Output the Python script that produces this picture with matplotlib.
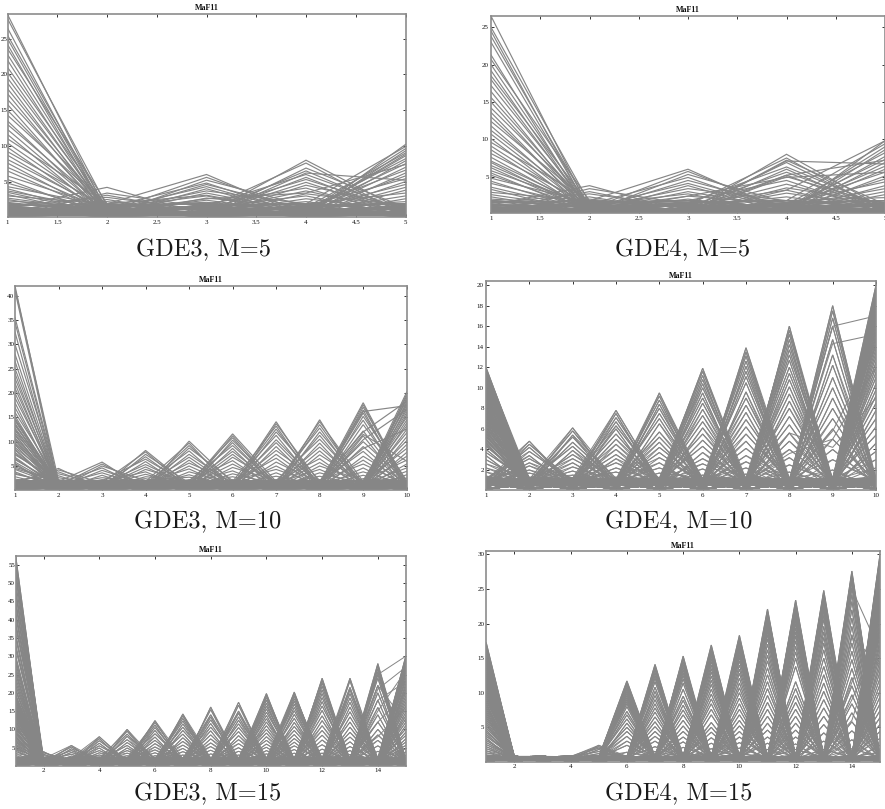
import matplotlib
matplotlib.use('Agg')
import matplotlib.pyplot as plt

# Values: for each objective, the heights of the solutions
# peaking there. Everything else on that solution sits on the panel's floor values.
gde3_m5_peaks = [
    [28.4, 27.8, 26.5, 25.5, 25, 24.2, 23.6, 22.8, 22, 21, 20.3, 19.5, 18.8, 18, 17.3, 16.5, 15.8, 15, 14.3, 13.5,
     13, 12.3, 11.6, 11, 10.4, 9.8, 9.2, 8.7, 8.1, 7.6, 7, 6.5, 5.8, 5.3, 4.8, 4.3, 4, 3.7, 3.5, 3.2, 3, 2.7, 2.5,
     2.3, 2.1, 1.9, 1.7, 1.5, 1.3, 1.1, 0.9, 0.7],
    [4.2, 3.4, 3.1, 2.8, 2.5, 2.2, 1.9, 1.6, 1.3, 1, 0.8, 0.6],
    [6, 5.6, 5.2, 4.8, 4.6, 4.3, 4, 3.7, 3.4, 3, 2.7, 2.4, 2.1, 1.8, 1.5, 1.2, 0.9],
    [8, 7.6, 6.9, 6.5, 6, 5.6, 5.3, 4.9, 4.5, 4.1, 3.7, 3.3, 3, 2.6, 2.2, 1.8, 1.4, 1],
    [10.2, 9.9, 9.6, 9.3, 9, 8.6, 8.2, 7.9, 7.5, 7, 6.6, 6.2, 5.8, 5.4, 5, 4.6, 4.2, 3.8, 3.4, 3, 2.6, 2.2, 1.8,
     1.4, 1, 0.6, 0.4],
]
gde3_m5_floor = [0.2, 0.9, 0.4, 1.3, 0.1, 0.7, 1.6, 0.3, 1.1, 0.5, 0.15, 1.9, 0.8, 0.25, 1.4, 0.6, 1.0]
gde3_m5_extra = [{4: 6.2, 5: 5.2}, {3: 2.6, 4: 3.4, 5: 7.4}, {2: 1.9, 3: 3.1, 5: 8.8}]

gde4_m5_peaks = [
    [26.5, 25, 24.5, 23.8, 23, 21.3, 20.7, 20, 19.2, 18.5, 18, 17.2, 16.4, 15.6, 15, 14.2, 13.6, 13, 12.4, 11.8,
     11.2, 10.7, 10.1, 9.6, 9.1, 8.6, 8.1, 7.6, 7.1, 6.9, 6.5, 6.2, 5.8, 5.5, 5.2, 4.8, 4.4, 4.1, 3.6, 3.3, 2.9,
     2.6, 2.3, 2, 1.7, 1.3, 1, 0.8],
    [3.8, 3.4, 3, 2.7, 2.3, 2, 1.7, 1.4, 1, 0.7],
    [6, 5.7, 5.3, 4.9, 4.5, 4.1, 3.8, 3.4, 3, 2.7, 2.4, 2, 1.6, 1.3, 1, 0.7],
    [8, 7.5, 7.2, 6.9, 6.3, 6, 5.6, 5.2, 5, 4.5, 4, 3.5, 3.2, 2.8, 2.3, 1.8, 1.3, 0.9],
    [9.8, 9.4, 9, 8.6, 8.2, 7.7, 7.3, 6.9, 6.4, 6, 5.6, 5.1, 4.7, 4.3, 3.8, 3.4, 3, 2.6, 2.2, 1.8, 1.4, 1, 0.6, 0.3],
]
gde4_m5_floor = [0.2, 0.8, 0.35, 1.2, 0.15, 0.6, 1.5, 0.3, 1, 0.5, 0.12, 1.8, 0.7, 0.25, 1.3, 0.45, 0.9]
gde4_m5_extra = [{4: 7.1, 5: 6.7}, {4: 5.2, 5: 7.2}, {3: 2.4, 4: 4.9, 5: 5.6}, {4: 3.2, 5: 9.8}]

gde3_m10_peaks = [
    [42, 41.5, 41, 35.5, 34.5, 32.5, 30, 28, 26.5, 25, 24, 23, 22, 21, 20, 19, 18, 17, 16, 15.3, 14.8, 14.3, 13.8,
     13.3, 12.8, 12.3, 11.8, 11.3, 10.8, 10.3, 9.8, 9.3, 8.8, 8.3, 7.8, 7.3, 6.8, 6.3, 5.8, 5.3, 4.8, 4.3, 3.8, 3.3,
     2.8, 2.3, 1.8, 14.5, 13.5, 12.5, 11.5, 10.5, 9.5, 8.5, 7.5, 6.5, 5.5, 4.5, 3.5],
    [4.5, 4.2, 3.8, 3.4, 3, 2.6, 2.2, 1.8, 1.4, 1],
    [5.8, 5.4, 5, 4.6, 4.1, 3.6, 3.1, 2.6, 2.2, 1.8, 1.4],
    [8.2, 7.9, 7.4, 6.9, 6.4, 5.9, 5.3, 4.8, 4.3, 3.8, 3.3, 2.8, 2.4, 1.9, 1.5],
    [10.1, 9.7, 9.2, 8.7, 8.1, 7.4, 6.8, 6.2, 5.6, 5, 4.4, 3.8, 3.2, 2.7, 2.2, 1.7],
    [11.6, 11.2, 10.8, 10.3, 9.8, 9.2, 8.6, 8, 7.4, 6.8, 6.1, 5.4, 4.7, 4, 3.4, 2.8, 2.2, 1.7],
    [14.1, 13.7, 13.2, 12.6, 12, 11.3, 10.4, 9.8, 9, 8.2, 7.4, 6.6, 5.8, 5, 4.3, 3.6, 2.9, 2.2, 1.7],
    [14.5, 14.1, 13.5, 12.8, 12, 11.3, 10.5, 9.7, 8.9, 8.1, 7.3, 6.5, 5.7, 5, 4.3, 3.6, 2.9, 2.2, 1.6],
    [18, 17.6, 17.1, 16.5, 15.9, 15.2, 14.4, 13.5, 12.2, 11.2, 10, 9, 8, 7, 6.2, 5.4, 4.6, 3.8, 3.1, 2.4],
    [20.2, 19.8, 19.4, 19, 18.6, 18.2, 17.8, 17.4, 17, 16.5, 16, 15.5, 15, 14.4, 13.8, 13.2, 12.5, 11.8, 11, 10.2,
     9.4, 8.6, 7.8, 7, 6.2, 5.4, 4.6, 3.9, 3.2, 2.5, 1.8, 1.2],
]
gde3_m10_floor = [0.1, 1.1, 0.6, 1.6, 0.2, 0.9, 2, 0.45, 1.3, 0.75, 0.15, 1.8, 1, 0.35, 1.5, 0.55, 1.2]
gde3_m10_extra = [{8: 1, 9: 16.2, 10: 17.4}, {8: 1.2, 9: 12, 10: 18.3}, {8: 0.9, 9: 10.4, 10: 16.6},
                  {8: 0.8, 9: 11.5, 10: 6}, {8: 1.4, 9: 8.6, 10: 12.6}]

gde4_m10_peaks = [
    [12, 11.8, 11.5, 11.2, 10.9, 10.6, 10.3, 10, 9.7, 9.4, 9.1, 8.8, 8.5, 8.2, 7.9, 7.6, 7.3, 7, 6.7, 6.4, 6.1, 5.8,
     5.5, 5.2, 4.9, 4.6, 4.3, 4, 3.7, 3.4, 3, 2.6, 2.2, 1.8, 1.4, 1, 0.7, 11.65, 11.35, 11.05, 10.75, 10.45, 10.15,
     9.85, 9.55, 9.25, 8.95, 8.65, 8.35, 8.05, 7.75, 7.45, 7.15, 6.85, 6.55, 6.25, 5.95, 5.65, 5.35, 5.05, 4.75, 4.45],
    [4.8, 4.5, 4.2, 3.8, 3.4, 3.1, 2.7, 2.4, 2, 1.7, 1.3, 1],
    [6.1, 5.8, 5.4, 5.2, 4.7, 4.3, 3.9, 3.5, 3.1, 2.7, 2.3, 1.9, 1.5, 1.1],
    [7.8, 7.5, 7.1, 6.7, 6.3, 6, 5.5, 5, 4.5, 4, 3.5, 3.1, 2.7, 2.2, 1.8, 1.3],
    [9.5, 9.2, 8.8, 8.4, 8, 7.5, 7, 6.5, 5.7, 5.2, 4.7, 4.2, 3.7, 3.2, 2.7, 2.2, 1.7, 1.2],
    [11.9, 11.6, 11.2, 10.8, 10.4, 10, 9.5, 9, 8.5, 7.9, 7.3, 6.7, 6.1, 5.5, 4.9, 4.3, 3.7, 3.1, 2.6, 2.1, 1.5],
    [13.9, 13.5, 13.1, 12.6, 12.1, 11.6, 11.1, 10.5, 9.6, 9, 8.3, 7.6, 6.9, 6.2, 5.5, 4.8, 4.1, 3.4, 2.8, 2.2, 1.6],
    [16, 15.6, 15.2, 14.7, 14.2, 13.7, 13.2, 12.7, 12, 11.4, 10.8, 10.1, 9.4, 8.7, 8, 7.2, 6.4, 5.6, 4.8, 4, 3.2, 2.5,
     1.8],
    [18, 17.5, 16.8, 16, 14.7, 13.2, 12.2, 11, 10, 9, 8, 7, 6, 5, 4, 3, 2],
    [20, 19.7, 19.4, 19.1, 18.8, 18.5, 18.2, 17.9, 17.6, 17.3, 17, 16.7, 16.4, 16.1, 15.8, 15.5, 15.2, 14.9, 14.6,
     14.2, 13.8, 13.4, 13, 12.5, 12, 11.5, 11, 10.4, 9.8, 9.2, 8.5, 7.8, 7, 6.2, 5.4, 4.6, 3.8, 3, 2.2, 1.4],
]
gde4_m10_floor = [0.1, 0.8, 0.55, 1, 0.2, 0.7, 1.2, 0.5, 0.9, 0.65, 0.15, 1.1, 0.75, 0.45, 0.95, 0.6, 0.85]
gde4_m10_extra = [{8: 0.8, 9: 16, 10: 17}, {8: 0.9, 9: 14.3, 10: 15.2}, {8: 1, 9: 5.8, 10: 14},
                  {7: 1, 8: 5.6, 9: 4.2, 10: 9}, {7: 0.8, 8: 3.6, 9: 5, 10: 12}]

gde3_m15_peaks = [
    [57.5, 55, 52, 50, 48, 45, 42, 39, 36, 33, 30, 28, 26, 24, 22, 20.5, 19, 18, 17, 16, 15.2, 14.4, 13.6, 12.8, 12,
     11.2, 10.4, 9.6, 8.8, 8, 7.2, 6.4, 5.6, 4.8, 4, 3.4, 2.8, 2.2, 56, 53, 47, 44, 41, 38, 35, 32, 29, 27, 25, 23,
     21, 19.5, 18.5, 17.5, 16.5, 15.6, 14.8, 14, 13.2, 12.4, 11.6, 10.8, 10, 9.2, 8.4, 7.6, 6.8, 6, 5.2, 4.4],
    [3.9, 3.6, 3.2, 2.8, 2.4, 2, 1.6, 1.2],
    [5.6, 5.2, 4.7, 4.2, 3.7, 3.2, 2.7, 2.2, 1.7],
    [8, 7.5, 6.9, 6.2, 5.5, 4.9, 4.2, 3.6, 3, 2.5, 1.9],
    [10, 9.5, 8.7, 8.1, 7.2, 6.4, 5.6, 4.9, 4.2, 3.5, 2.8, 2.2],
    [12.4, 11.9, 11.2, 10.5, 9.7, 8.8, 7.9, 7, 6.1, 5.2, 4.4, 3.6, 2.8, 2.1],
    [14.2, 13.7, 13, 12.3, 11.5, 10.6, 9.7, 8.7, 7.7, 6.7, 5.7, 4.8, 3.9, 3, 2.2],
    [16.1, 15.4, 14, 13.4, 12.6, 11.6, 10.6, 9.6, 8.5, 7.4, 6.3, 5.3, 4.3, 3.3, 2.3],
    [17.4, 16.6, 15, 14.4, 13.4, 12.5, 11.5, 10.5, 9.4, 8.3, 7.2, 6.1, 5, 4, 3, 2.1],
    [19.8, 19.3, 18.7, 18, 17.2, 16.4, 15.6, 14.7, 13.8, 12.9, 12, 11, 10, 9, 8, 7, 6, 5.1, 4.2, 3.3, 2.4],
    [20.2, 19.7, 19.1, 18.4, 17.7, 16.9, 16, 15.1, 14.1, 13, 11.9, 10.8, 9.7, 8.6, 7.5, 6.5, 5.5, 4.5, 3.5, 2.5],
    [24, 23.4, 22.7, 21.8, 20.8, 19.8, 18.7, 17.6, 16.4, 15.2, 13.7, 12.4, 11, 9.7, 8.4, 7.1, 5.8, 4.6, 3.5, 2.4],
    [24, 23.3, 21.5, 20.8, 19.8, 18.6, 17.4, 16.1, 14.8, 13.4, 12, 10.6, 9.2, 7.9, 6.6, 5.3, 4.2, 3.1, 2.2],
    [28, 27.4, 26.6, 25.8, 25, 24, 22, 20, 18, 16, 14, 12, 10, 8.5, 7, 5.5, 4, 2.5],
    [30, 29.5, 29, 28.5, 28, 27.4, 26.8, 26.2, 25.5, 24.8, 24, 23.2, 22.4, 21.6, 20.8, 20, 19.1, 18.2, 17.3, 16.4,
     15.5, 14.6, 13.7, 12.8, 11.9, 11, 10.1, 9.2, 8.3, 7.4, 6.5, 5.6, 4.7, 3.8, 2.9, 2],
]
gde3_m15_floor = [0.1, 1.2, 0.6, 1.8, 0.15, 0.9, 2.2, 0.45, 1.5, 0.75, 0.2, 2, 1, 0.35, 1.6, 0.55, 1.3]
gde3_m15_extra = [{13: 2, 14: 25, 15: 30}, {13: 1.5, 14: 21, 15: 27}, {13: 2, 14: 18, 15: 23}, {13: 2, 14: 22, 15: 12},
                  {13: 1.5, 14: 15, 15: 26}, {13: 2.5, 14: 12, 15: 20}, {13: 2, 14: 8, 15: 16}]

gde4_m15_peaks = [
    [17.2, 16.9, 16.6, 16.3, 16, 15.7, 15.4, 15.1, 14.8, 14.5, 14.2, 13.9, 13.6, 13.3, 13, 12.7, 12.4, 12.1, 11.8, 11.5,
     11.2, 10.9, 10.6, 10.3, 10, 9.7, 9.4, 9.1, 8.8, 8.5, 8.2, 7.9, 7.6, 7.3, 7, 6.7, 6.4, 6.1, 5.8, 5.5, 5.2, 4.9,
     4.6, 4.3, 4, 3.7, 3.4, 3.1, 2.8, 2.5, 2.2, 1.9, 1.6, 1.3, 1],
    [0.8, 0.75],
    [0.8, 0.75],
    [0.8, 0.75],
    [2.4, 2.2, 2, 1.8, 1.5, 1.2],
    [11.7, 11.4, 11.1, 10.8, 10.5, 10.2, 9.9, 9.6, 9.3, 9, 8.7, 8.4, 8, 7.3, 6.8, 6.2, 5.6, 5, 4.4, 3.7, 3, 2.4, 1.4],
    [14.1, 13.7, 13.3, 12.9, 12.5, 12.1, 11.6, 10.8, 10.2, 9.6, 9, 8.4, 7.8, 7.2, 6.5, 5.8, 5.1, 4.4, 3.7, 3, 2.2, 1.5],
    [15.3, 14.9, 14.5, 14.1, 13.7, 13.3, 12.9, 12.5, 12, 11.4, 10.5, 9.5, 8.9, 8.2, 7.5, 6.8, 6, 5.2, 4.4, 3.6, 2.9,
     2.1, 1.4],
    [16.9, 16.5, 16.1, 15.7, 15.3, 14.9, 14.5, 14, 13.5, 13, 12.4, 11.8, 11.2, 10.5, 9.8, 9.1, 8.4, 7.6, 6.8, 5.7, 5,
     4.3, 3.5, 2.7, 1.9, 1.3],
    [18.3, 17.9, 17.5, 17.1, 16.7, 16.3, 15.9, 15.5, 15.1, 14.6, 14, 13.4, 12.8, 12.1, 11.4, 10.7, 10, 9.2, 8.4, 7.6,
     6.8, 6, 5.2, 4.4, 3.6, 2.8, 2, 1.2],
    [22.1, 21.7, 21.3, 20.9, 20.5, 20.1, 19.7, 19.3, 18.9, 18.4, 17.8, 17, 16.2, 15.4, 14.6, 13.6, 12.6, 11.6, 10.6,
     9.6, 8.6, 7.6, 6.6, 5.6, 4.6, 3.6, 2.7, 1.8],
    [23.4, 23, 22.6, 22.2, 21.8, 21.4, 21, 20.5, 20, 19.4, 18.8, 18.2, 17.5, 16.7, 15.9, 15, 13.8, 11.6, 10.6, 9.6, 8.6,
     7.6, 6.6, 5.6, 4.6, 3.6, 2.6, 1.8],
    [24.8, 24.4, 24, 23.6, 23.2, 22.8, 22.3, 21.8, 21.2, 20.6, 19.6, 18.8, 18, 17.2, 16.2, 15, 13.8, 12.6, 11.4, 10.2,
     9, 7.8, 6.6, 5.4, 4.2, 3, 1.8],
    [27.6, 27.2, 26.8, 26.4, 26, 25.2, 24.2, 23.2, 22, 20.8, 19.6, 18.4, 17.2, 16, 14.8, 13.5, 12.2, 11, 9.7, 8.4, 7.1,
     5.8, 4.5, 3.2, 1.9],
    [30, 29.6, 29.2, 28.8, 28.4, 28, 27.6, 27.2, 26.8, 26.4, 26, 25.5, 25, 24.5, 24, 23.5, 23, 22.5, 22, 21.4, 20.8,
     20.2, 19.6, 19, 18.3, 17.6, 16.9, 16.2, 15.4, 14.6, 13.8, 13, 12.1, 11.2, 10.3, 9.4, 8.4, 7.4, 6.4, 5.4, 4.4, 3.4,
     2.4, 1.4],
]
gde4_m15_floor = [0.05, 0.7, 0.5, 0.8, 0.2, 0.6, 0.75, 0.4, 0.65, 0.55, 0.1, 0.8, 0.7, 0.35, 0.75, 0.45, 0.6]
gde4_m15_extra = [{13: 1.5, 14: 25, 15: 16}, {13: 1.2, 14: 18, 15: 14}, {13: 1, 14: 11.5, 15: 21},
                  {13: 1, 14: 9, 15: 18}, {13: 1.5, 14: 6, 15: 19}]

m5_xticks = [1, 1.5, 2, 2.5, 3, 3.5, 4, 4.5, 5]
m5_xlabels = ['1', '1.5', '2', '2.5', '3', '3.5', '4', '4.5', '5']
m10_xticks = [1, 2, 3, 4, 5, 6, 7, 8, 9, 10]
m15_xticks = [2, 4, 6, 8, 10, 12, 14]

W, H = 885, 809
fig = plt.figure(figsize=(W / 100, H / 100), dpi=100)
line_color = '#868686'


def draw_panel(box, peaks, floor, extra, xticks, xlabels, yticks, ylim, caption, caption_xy, passes=1, lw=0.85, ypad=1.5):
    # box is left, right, top, bottom in picture pixels
    left, right, top, bottom = box
    ax = fig.add_axes([left / W, 1 - bottom / H, (right - left) / W, (bottom - top) / H])
    M = len(peaks)
    xs = list(range(1, M + 1))
    n = len(floor)
    for k, heights in enumerate(peaks):
        for j, h in enumerate(heights):
            # same height again over other floor values, so the feet of the tents fill in
            for p in range(passes):
                ys = [floor[(j + 5 * m + 3 * k + 4 * p) % n] for m in range(M)]
                ys[k] = h
                ax.plot(xs, ys, color=line_color, lw=lw, solid_joinstyle='miter')
    for row in extra:
        ys = [floor[(5 * m) % n] for m in range(M)]
        for axis, value in row.items():
            ys[axis - 1] = value
        ax.plot(xs, ys, color=line_color, lw=lw)

    ax.set_xlim(1, M)
    ax.set_ylim(*ylim)
    ax.set_xticks(xticks)
    ax.set_xticklabels(xlabels)
    ax.set_yticks(yticks)
    ax.set_yticklabels([str(t) for t in yticks])
    ax.tick_params(direction='in', length=2.5, width=0.7, color='#333333', top=True, right=True,
                   labelsize=5, labelcolor='#111111')
    ax.tick_params(axis='x', pad=2)
    ax.tick_params(axis='y', pad=ypad)
    for label in ax.get_xticklabels() + ax.get_yticklabels():
        label.set_family('Liberation Serif')
    for spine in ax.spines.values():
        spine.set_color('#8c8c8c')
        spine.set_linewidth(1.2)
    ax.set_title('MaF11', family='Liberation Serif', weight='bold', fontsize=5.8, color='#111111', pad=2.5)
    fig.text(caption_xy[0] / W, 1 - caption_xy[1] / H, caption, family='cmr10', fontsize=17.6, color='#1a1a1a',
             ha='center', va='center')


draw_panel((7.5, 405.5, 13.7, 217), gde3_m5_peaks, gde3_m5_floor, gde3_m5_extra, m5_xticks, m5_xlabels,
           [5, 10, 15, 20, 25], (0.05, 28.5), 'GDE3, M=5', (203, 250), ypad=0.2)
draw_panel((491, 885, 15.7, 213.3), gde4_m5_peaks, gde4_m5_floor, gde4_m5_extra, m5_xticks, m5_xlabels,
           [5, 10, 15, 20, 25], (0.1, 26.55), 'GDE4, M=5', (683, 250))
draw_panel((15, 406.7, 285.7, 490), gde3_m10_peaks, gde3_m10_floor, gde3_m10_extra, m10_xticks,
           [str(t) for t in m10_xticks], [5, 10, 15, 20, 25, 30, 35, 40], (0.07, 42.05), 'GDE3, M=10', (207.5, 522),
           ypad=0.5)
draw_panel((486, 876, 281, 490), gde4_m10_peaks, gde4_m10_floor, gde4_m10_extra, m10_xticks,
           [str(t) for t in m10_xticks], [2, 4, 6, 8, 10, 12, 14, 16, 18, 20], (0.05, 20.4), 'GDE4, M=10', (679, 522),
           passes=2, lw=0.75)
draw_panel((15.7, 405.7, 555.7, 765.7), gde3_m15_peaks, gde3_m15_floor, gde3_m15_extra, m15_xticks,
           [str(t) for t in m15_xticks], [5, 10, 15, 20, 25, 30, 35, 40, 45, 50, 55], (0.07, 57.5),
           'GDE3, M=15', (207.5, 794), passes=2, lw=0.7, ypad=0.5)
draw_panel((486.3, 880, 551, 761.7), gde4_m15_peaks, gde4_m15_floor, gde4_m15_extra, m15_xticks,
           [str(t) for t in m15_xticks], [5, 10, 15, 20, 25, 30], (0.03, 30.5), 'GDE4, M=15', (679, 794),
           passes=2, lw=0.75)

fig.savefig('out.png', dpi=100)
